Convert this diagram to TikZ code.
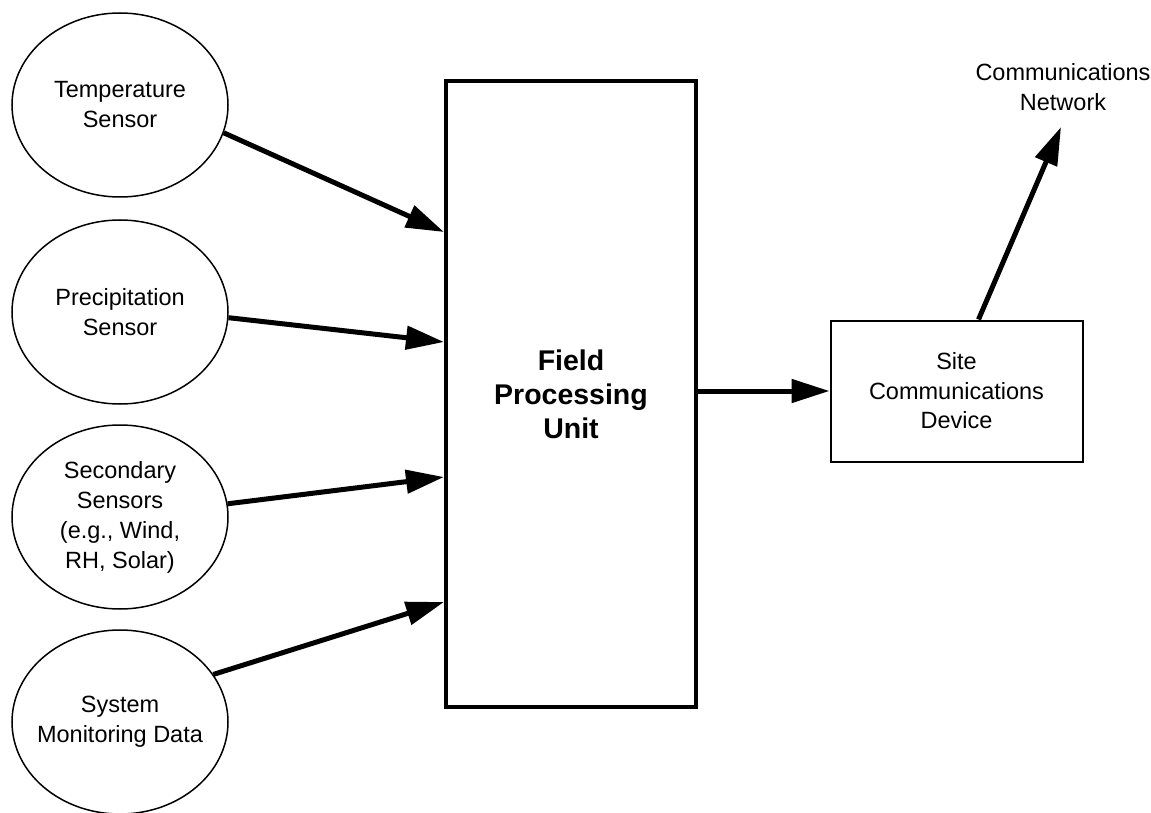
\documentclass[tikz,border=0pt]{standalone}
\usepackage{fontspec}
\setmainfont{Liberation Sans}
\usetikzlibrary{shapes.geometric,arrows.meta}
\tikzset{
  sensor/.style={draw, ellipse, line width=1.5pt, minimum width=216pt, minimum height=184pt, inner sep=-25pt, align=center, font=\fontsize{23.5}{30}\selectfont},
  fpubox/.style={draw, line width=4pt, minimum width=250pt, minimum height=626pt, inner sep=0pt, align=center, font=\bfseries\fontsize{28.5}{34}\selectfont},
  sitebox/.style={draw, line width=2pt, minimum width=252pt, minimum height=141pt, inner sep=0pt, align=center, font=\fontsize{23.5}{29.5}\selectfont},
  lbl/.style={align=center, font=\fontsize{23.5}{29.5}\selectfont},
  conn/.style={line width=5pt, -{Triangle[length=38pt,width=23pt]}}
}
\begin{document}
\begin{tikzpicture}[x=1pt,y=-1pt]
\useasboundingbox[fill=white] (0,0) rectangle (1151,813);
\node[sensor] (e1) at (120,105) {Temperature\\Sensor};
\node[sensor] (e2) at (120,312) {Precipitation\\Sensor};
\node[sensor] (e3) at (120,517) {Secondary\\Sensors\\(e.g., Wind,\\RH, Solar)};
\node[sensor] (e4) at (120,722) {System\\Monitoring Data};
\node[fpubox] (fpu) at (571,394) {Field\\Processing\\Unit};
\node[sitebox] (site) at (956.5,391) {Site\\Communications\\Device};
\node[lbl] (net) at (1063,87) {Communications\\Network};
\coordinate (nettip) at (1061,127);
\draw[conn] (e1.-15) -- ([yshift=162pt]fpu.west);
\draw[conn] (e2.-3) -- ([yshift=52pt]fpu.west);
\draw[conn] (e3.7) -- ([yshift=-83pt]fpu.west);
\draw[conn] (e4.27) -- ([yshift=-208pt]fpu.west);
\draw[conn] ([yshift=3pt]fpu.east) -- ([yshift=3pt]fpu.east -| site.west);
\draw[conn] ([xshift=22pt]site.north) -- (nettip);
\end{tikzpicture}
\end{document}
